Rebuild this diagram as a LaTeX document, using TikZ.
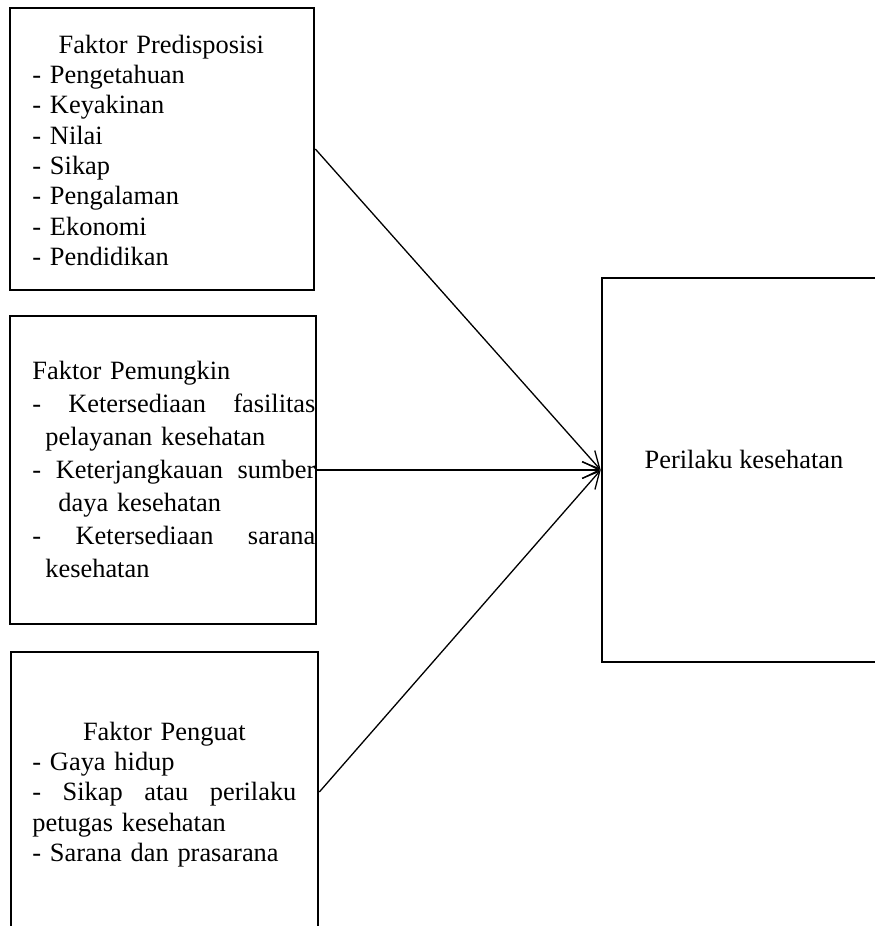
\documentclass[tikz,border=0pt]{standalone}
\usepackage{fontspec}
\setmainfont{Liberation Serif}
\usetikzlibrary{arrows.meta}
\def\fullline#1#2#3{\leavevmode\hbox to \hsize{#1\hfill #2\hfill #3}}
\def\midline#1{\leavevmode\hbox to \hsize{\hfil #1\hfil}}

\begin{document}
\begin{tikzpicture}[x=0.5pt, y=-0.5pt,
	faktor/.style={draw, line width=1.3pt, inner sep=0pt},
	isi/.style={inner sep=0pt, align=left, anchor=base west, font=\fontsize{13.2}{15.2}\selectfont},
	panah/.style={line width=0.65pt, -{Straight Barb[length=8.5pt, width=8.5pt]}}]
	%%%%% START %%%%%
	\useasboundingbox (0, 0) rectangle (874, 926);
	
	% kotak faktor
	\node[faktor, minimum width=152pt, minimum height=141pt] (predis) at (162, 149) {};
	\node[faktor, minimum width=153pt, minimum height=154pt] (mungkin) at (163, 470) {};
	\node[faktor, minimum width=153.5pt, minimum height=140pt] (kuat) at (164.5, 792) {};
	\node[faktor, minimum width=142pt, minimum height=192pt] (perilaku) at (744, 470) {};
	
	% isi kotak
	\node[isi, text width=129pt] (predisIsi) at (32, 53) {\midline{Faktor Predisposisi}\\
		- Pengetahuan\\- Keyakinan\\- Nilai\\- Sikap\\- Pengalaman\\- Ekonomi\\- Pendidikan};
	\node[isi, text width=141.5pt, font=\fontsize{13.2}{16.5}\selectfont] (mungkinIsi) at (32, 379) {Faktor Pemungkin\\
		\fullline{-}{Ketersediaan}{fasilitas}\\
		\hspace*{6.5pt}pelayanan kesehatan\\
		\fullline{-}{Keterjangkauan}{sumber}\\
		\hspace*{13pt}daya kesehatan\\
		\fullline{-}{Ketersediaan}{sarana}\\
		\hspace*{6.5pt}kesehatan};
	\node[isi, text width=132pt] (kuatIsi) at (32, 740) {\midline{Faktor Penguat}\\
		- Gaya hidup\\
		\leavevmode\hbox to \hsize{-\hfill Sikap\hfill atau\hfill perilaku}\\
		petugas kesehatan\\
		- Sarana dan prasarana};
	\node[isi, anchor=base] (perilakuIsi) at (744, 468) {Perilaku kesehatan};
	
	% panah
	\draw[panah] (predis.east) -- (perilaku.west);
	\draw[panah] (mungkin.east) -- (perilaku.west);
	\draw[panah] (kuat.east) -- (perilaku.west);
	
	%%%%% END %%%%%
\end{tikzpicture}
\end{document}
